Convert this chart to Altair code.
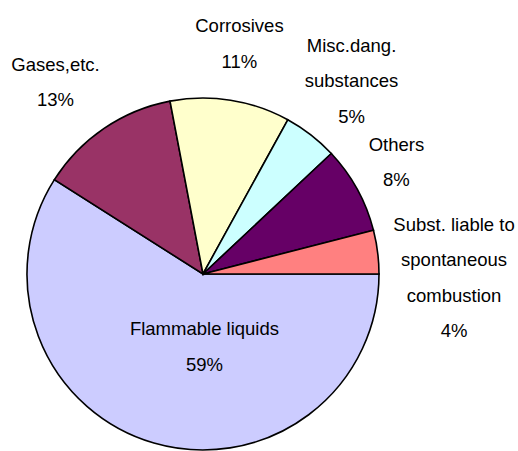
import math
import altair as alt
import pandas as pd

# ---- data ----
categories = [
    "Flammable liquids",
    "Gases,etc.",
    "Corrosives",
    "Misc.dang. substances",
    "Others",
    "Subst. liable to spontaneous combustion",
]
values = [59, 13, 11, 5, 8, 4]
label_lines = [
    ["Flammable liquids"],
    ["Gases,etc."],
    ["Corrosives"],
    ["Misc.dang.", "substances"],
    ["Others"],
    ["Subst. liable to", "spontaneous", "combustion"],
]
colors = ["#CCCCFF", "#993366", "#FFFFCC", "#CCFFFF", "#660066", "#FF8080"]

# ---- label layout (radius from centre along slice mid-angle, plus nudges) ----
label_layout = {
    "Flammable liquids": (70, 21, 6),
    "Gases,etc.": (241, -12, 8),
    "Corrosives": (233, 0, 0),
    "Misc.dang. substances": (244, -1, 0),
    "Others": (223, -2, -4),
    "Subst. liable to spontaneous combustion": (249, 4, 35),
}

CX, CY, R = 203, 274, 176
LH = 35.5

labels = ["\n".join(lines + [f"{v}%"]) for lines, v in zip(label_lines, values)]
df = pd.DataFrame({
    "cat": categories,
    "value": values,
    "idx": list(range(len(categories))),
    "label": labels,
})

theta_scale = alt.Scale(domain=[0, 100], range=[math.pi / 2, math.pi / 2 + 2 * math.pi])

base = alt.Chart(df)

pie = base.mark_arc(outerRadius=R, stroke="black", strokeWidth=1.6).encode(
    theta=alt.Theta("value:Q", stack=True, scale=theta_scale),
    order=alt.Order("idx:Q"),
    color=alt.Color("cat:N", scale=alt.Scale(domain=categories, range=colors), legend=None),
    x=alt.value(CX),
    y=alt.value(CY),
)

layers = [pie]
for cat, lab in zip(categories, labels):
    r, dx, dy = label_layout[cat]
    nlines = lab.count("\n") + 1
    t = (
        base.transform_window(cum="sum(value)", sort=[alt.SortField("idx")], frame=[None, 0])
        .transform_calculate(mid="datum.cum - datum.value / 2")
        .transform_filter(alt.datum.cat == cat)
        .mark_text(
            radius=r, dx=dx, dy=dy - (nlines - 1) / 2 * LH,
            font="Liberation Sans, Arial",
            fontSize=18.5, lineHeight=LH, lineBreak="\n",
            align="center", baseline="middle", color="black",
        )
        .encode(
            theta=alt.Theta("mid:Q", stack=False, scale=theta_scale),
            text="label:N",
            x=alt.value(CX),
            y=alt.value(CY),
        )
    )
    layers.append(t)

chart = (
    alt.layer(*layers)
    .properties(width=518, height=451, autosize=alt.AutoSizeParams(type="none"), padding=0)
    .configure_view(strokeWidth=0)
)

chart.save("out.html", embed_options={"renderer": "svg", "actions": False})
